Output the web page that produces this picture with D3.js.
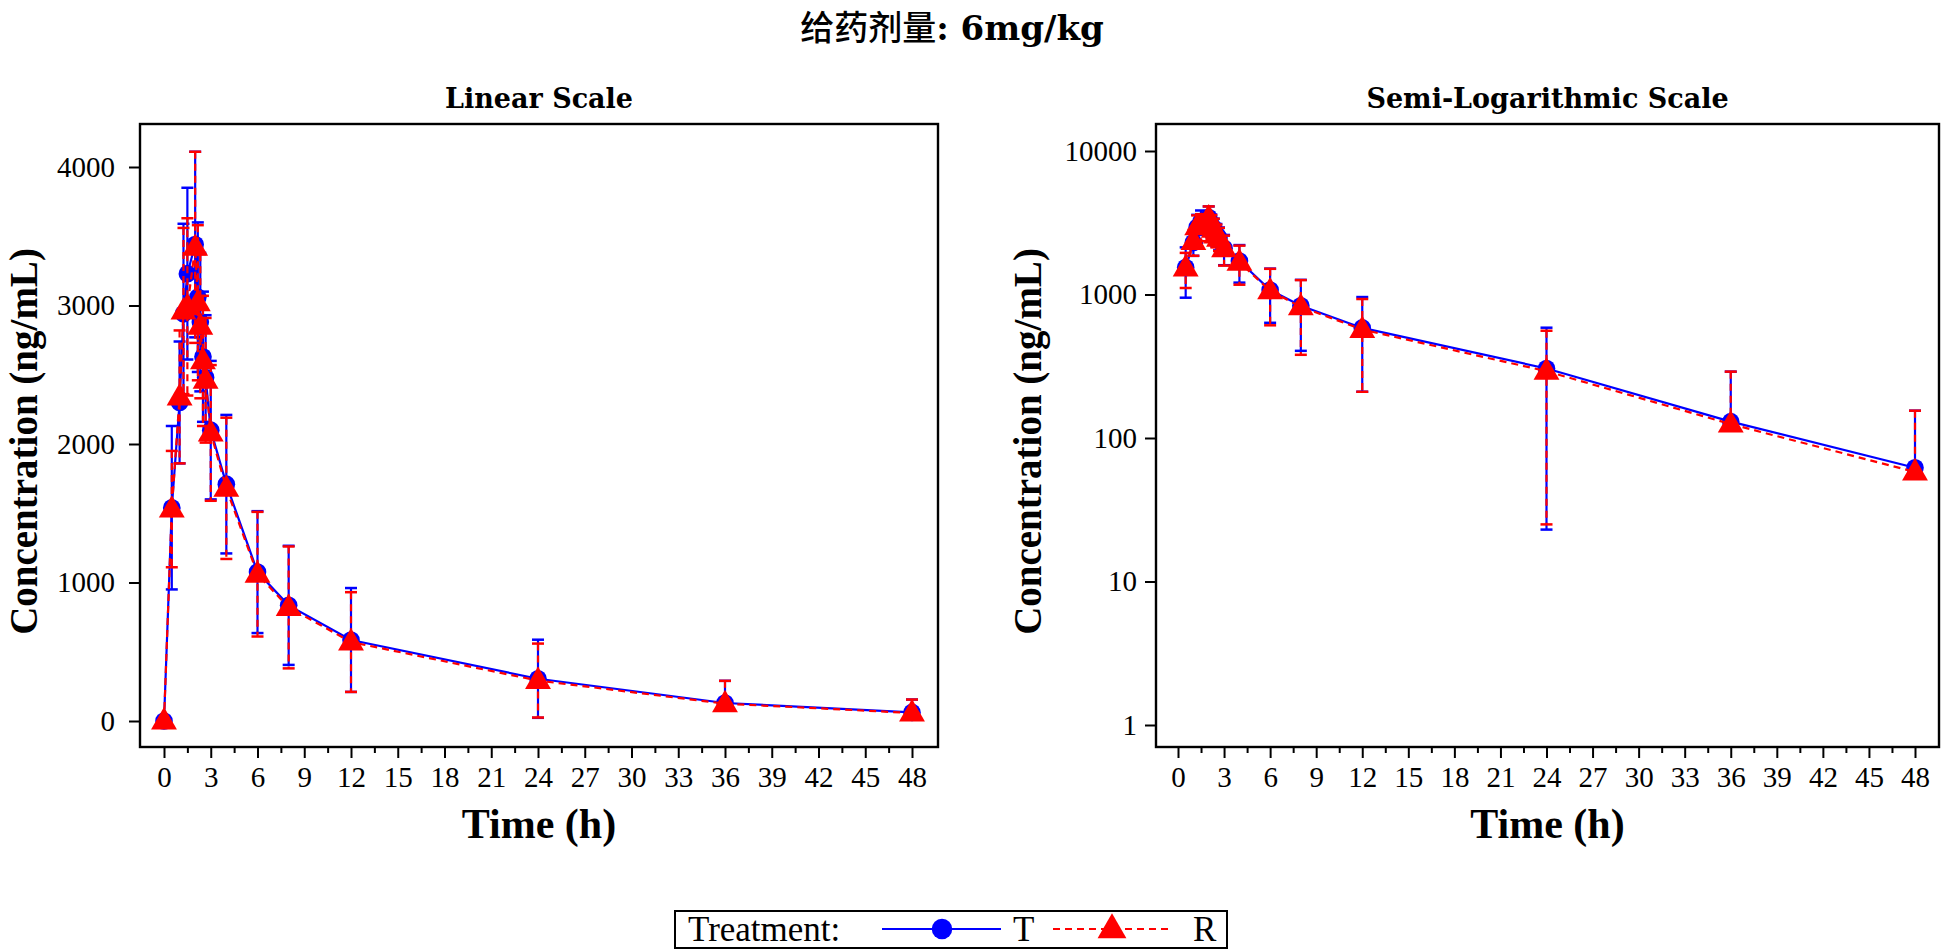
<!DOCTYPE html>
<html>
<head>
<meta charset="utf-8">
<script src="https://cdn.jsdelivr.net/npm/d3@7"></script>
<style>
  html, body { margin: 0; padding: 0; background: #fff; }
  svg { display: block; }
</style>
</head>
<body>
<script>
// ---------------- DATA ----------------
const titleCJK = "给药剂量";
const titleRest = ": 6mg/kg";
const panelTitles = ["Linear Scale", "Semi-Logarithmic Scale"];
const xLabel = "Time (h)";
const yLabel = "Concentration (ng/mL)";
const treatments = ["T", "R"];

const times = [0, 0.5, 1, 1.25, 1.5, 2, 2.17, 2.33, 2.5, 2.67, 3, 4, 6, 8, 12, 24, 36, 48];
const tMean = [0, 1540, 2300, 2940, 3230, 3440, 3060, 2880, 2630, 2480, 2100, 1710, 1075, 835, 585, 305, 130, 62];
const tSD   = [0, 590, 440, 650, 620, 670, 540, 500, 470, 450, 500, 500, 440, 430, 375, 282, 160, 93];
const rMean = [0, 1530, 2340, 2960, 2990, 3420, 3020, 2850, 2600, 2460, 2080, 1680, 1060, 820, 570, 292, 125, 58];
const rSD   = [0, 420, 480, 600, 640, 690, 560, 520, 470, 450, 490, 510, 450, 440, 360, 267, 165, 97];

const xTicks = d3.range(0, 49, 3);
const xMinorTicks = d3.range(1.5, 48, 3);
const yTicksLin = [0, 1000, 2000, 3000, 4000];
const yTicksLog = [1, 10, 100, 1000, 10000];

// ---------------- LAYOUT ----------------
const W = 1943, H = 952;
const svg = d3.select("body").append("svg").attr("width", W).attr("height", H);

const BLUE = "#0000ff", RED = "#ff0000";
const tickFont = "'Liberation Serif', 'Times New Roman', serif";
const boldFont = "'DejaVu Serif', 'Noto Sans CJK SC', serif";
const axisFont = "'Liberation Serif', 'Times New Roman', serif";

const tt = svg.append("text")
  .attr("x", 952).attr("y", 40)
  .attr("text-anchor", "middle")
  .style("font-size", "34px");
tt.append("tspan").style("font-family", "'Noto Sans CJK SC', sans-serif").style("font-weight", "500").text(titleCJK);
tt.append("tspan").style("font-family", boldFont).style("font-weight", "bold").text(titleRest);

const panels = [
  { fx0: 140, fx1: 938, fy0: 124, fy1: 747, xr: [164, 912], log: false, ylabX: 37 },
  { fx0: 1156, fx1: 1939, fy0: 124, fy1: 747, xr: [1178, 1915], log: true, ylabX: 1041 }
];

const series = [
  { name: treatments[0], mean: tMean, sd: tSD, color: BLUE, dash: null, shape: "circle" },
  { name: treatments[1], mean: rMean, sd: rSD, color: RED, dash: "7,5", shape: "triangle" }
];

const circleSym = d3.symbol().type(d3.symbolCircle).size(245);
const triSym = d3.symbol().type(d3.symbolTriangle).size(290);

panels.forEach((p, i) => {
  const g = svg.append("g");
  const x = d3.scaleLinear().domain([0, 48]).range(p.xr);
  const y = p.log
    ? d3.scaleLog().domain([1, 10000]).range([725, 151])
    : d3.scaleLinear().domain([0, 4000]).range([721, 167]);

  // panel title
  g.append("text")
    .attr("x", (p.fx0 + p.fx1) / 2).attr("y", 108)
    .attr("text-anchor", "middle")
    .style("font-family", boldFont).style("font-weight", "bold").style("font-size", "27px")
    .text(panelTitles[i]);

  // frame
  g.append("rect")
    .attr("x", p.fx0).attr("y", p.fy0)
    .attr("width", p.fx1 - p.fx0).attr("height", p.fy1 - p.fy0)
    .attr("fill", "none").attr("stroke", "#000").attr("stroke-width", 2.4);

  // x axis
  const xAxis = d3.axisBottom(x).tickValues(xTicks).tickSize(11).tickPadding(8)
    .tickFormat(d3.format("d"));
  const xg = g.append("g").attr("transform", `translate(0,${p.fy1})`).call(xAxis);
  xg.select(".domain").remove();
  xg.selectAll("line").attr("stroke-width", 2);
  xg.selectAll("text").style("font-family", tickFont).style("font-size", "29px").attr("fill", "#000");
  const xmg = g.append("g").attr("transform", `translate(0,${p.fy1})`)
    .call(d3.axisBottom(x).tickValues(xMinorTicks).tickSize(6).tickFormat(""));
  xmg.select(".domain").remove();
  xmg.selectAll("line").attr("stroke-width", 2);

  // y axis
  const yAxis = d3.axisLeft(y).tickValues(p.log ? yTicksLog : yTicksLin)
    .tickSize(11).tickPadding(p.log ? 8 : 14).tickFormat(d3.format("d"));
  const yg = g.append("g").attr("transform", `translate(${p.fx0},0)`).call(yAxis);
  yg.select(".domain").remove();
  yg.selectAll("line").attr("stroke-width", 2);
  yg.selectAll("text").style("font-family", tickFont).style("font-size", "29px").attr("fill", "#000");

  // axis titles
  g.append("text")
    .attr("x", (p.fx0 + p.fx1) / 2).attr("y", 838)
    .attr("text-anchor", "middle")
    .style("font-family", axisFont).style("font-weight", "bold").style("font-size", "42px")
    .text(xLabel);
  g.append("text")
    .attr("transform", `translate(${p.ylabX},${(p.fy0 + p.fy1) / 2 + 6}) rotate(-90)`)
    .attr("text-anchor", "middle")
    .style("font-family", axisFont).style("font-weight", "bold").style("font-size", "39px")
    .text(yLabel);

  // data
  const plotG = g.append("g");
  series.forEach(s => {
    let pts = times.map((t, k) => ({ t, m: s.mean[k], sd: s.sd[k] }));
    if (p.log) pts = pts.filter(d => d.m > 0);

    const line = d3.line().x(d => x(d.t)).y(d => y(d.m));
    plotG.append("path").datum(pts)
      .attr("d", line).attr("fill", "none")
      .attr("stroke", s.color).attr("stroke-width", 2.2)
      .attr("stroke-dasharray", s.dash);

    // error bars
    pts.forEach(d => {
      if (d.sd <= 0) return;
      const hi = d.m + d.sd, lo = d.m - d.sd;
      const xc = x(d.t);
      const yTop = y(hi);
      const yBot = lo > 0 ? y(lo) : y(d.m);
      plotG.append("line")
        .attr("x1", xc).attr("x2", xc).attr("y1", yTop).attr("y2", yBot)
        .attr("stroke", s.color).attr("stroke-width", 2.2).attr("stroke-dasharray", s.dash);
      plotG.append("line")
        .attr("x1", xc - 6).attr("x2", xc + 6).attr("y1", yTop).attr("y2", yTop)
        .attr("stroke", s.color).attr("stroke-width", 2.5);
      if (lo > 0) {
        plotG.append("line")
          .attr("x1", xc - 6).attr("x2", xc + 6).attr("y1", yBot).attr("y2", yBot)
          .attr("stroke", s.color).attr("stroke-width", 2.5);
      }
    });

    // markers
    plotG.selectAll(null).data(pts).enter().append("path")
      .attr("d", s.shape === "circle" ? circleSym : triSym)
      .attr("transform", d => `translate(${x(d.t)},${y(d.m) + (s.shape === "circle" ? 0 : 1)})`)
      .attr("fill", s.color);
  });
});

// ---------------- LEGEND ----------------
const lg = svg.append("g");
lg.append("rect").attr("x", 675).attr("y", 911).attr("width", 552).attr("height", 37)
  .attr("fill", "#fff").attr("stroke", "#000").attr("stroke-width", 2);
lg.append("text").attr("x", 688).attr("y", 941)
  .style("font-family", tickFont).style("font-size", "35px").text("Treatment:");
// T
lg.append("line").attr("x1", 882).attr("x2", 1001).attr("y1", 929).attr("y2", 929)
  .attr("stroke", BLUE).attr("stroke-width", 2.2);
lg.append("path").attr("d", d3.symbol().type(d3.symbolCircle).size(330)())
  .attr("transform", "translate(942,929)").attr("fill", BLUE);
lg.append("text").attr("x", 1013).attr("y", 941)
  .style("font-family", tickFont).style("font-size", "35px").text(treatments[0]);
// R
lg.append("line").attr("x1", 1053).attr("x2", 1171).attr("y1", 929).attr("y2", 929)
  .attr("stroke", RED).attr("stroke-width", 2.2).attr("stroke-dasharray", "7,5");
lg.append("path").attr("d", d3.symbol().type(d3.symbolTriangle).size(360)())
  .attr("transform", "translate(1112,930)").attr("fill", RED);
lg.append("text").attr("x", 1193).attr("y", 941)
  .style("font-family", tickFont).style("font-size", "35px").text(treatments[1]);
</script>
</body>
</html>
